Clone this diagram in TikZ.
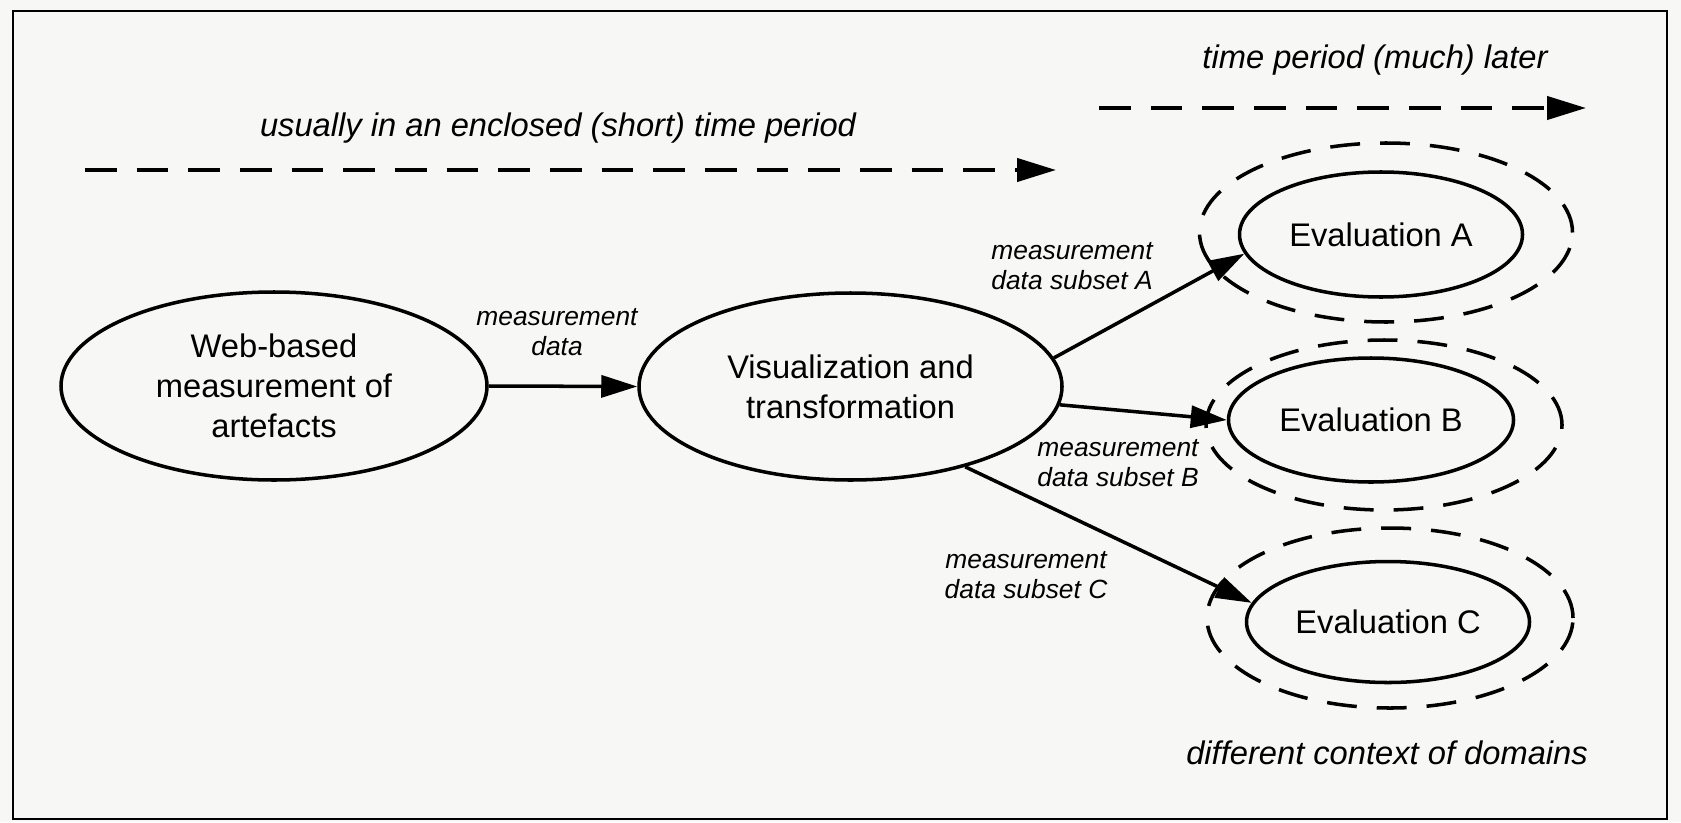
\documentclass[tikz,border=0pt]{standalone}
\usepackage{fontspec}
\setmainfont{Liberation Sans}
\usetikzlibrary{shapes.geometric, arrows.meta}
\definecolor{paper}{RGB}{247,247,245}

\begin{document}
\begin{tikzpicture}[
mainnode/.style={ellipse, draw=black, line width=1pt, inner sep=0pt, align=center, font=\fontsize{9.3}{11.4}\selectfont},
evalnode/.style={ellipse, draw=black, line width=1pt, inner sep=0pt, font=\fontsize{9.3}{11.4}\selectfont},
ringnode/.style={ellipse, draw=black, line width=1pt, dash pattern=on 8.5pt off 5.7pt, inner sep=0pt},
flowlabel/.style={align=center, font=\fontsize{7.5}{8.6}\selectfont\itshape},
timelabel/.style={font=\fontsize{9.3}{11.4}\selectfont\itshape},
timearrow/.style={line width=1.2pt, dash pattern=on 9pt off 5.7pt, -{Triangle[length=3.9mm, width=2.3mm]}},
dataarrow/.style={line width=1pt, -{Triangle[length=3.6mm, width=2.2mm]}}
]

\fill[paper] (0,0) rectangle (16.81,8.22);
\useasboundingbox (0,0) rectangle (16.81,8.22);
\draw[line width=0.8pt] (0.13,0.03) rectangle (16.67,8.11);

\node[mainnode, minimum width=4.26cm, minimum height=1.88cm] at (2.74, 4.36) (web) {Web-based\\measurement of\\artefacts};
\node[mainnode, minimum width=4.23cm, minimum height=1.87cm] at (8.505, 4.355) (vis) {Visualization and\\transformation};

\node[ringnode, minimum width=3.73cm, minimum height=1.79cm] at (13.86, 5.895) (ringA) {};
\node[ringnode, minimum width=3.56cm, minimum height=1.70cm] at (13.84, 3.97) (ringB) {};
\node[ringnode, minimum width=3.66cm, minimum height=1.80cm] at (13.90, 2.04) (ringC) {};

\node[evalnode, minimum width=2.83cm, minimum height=1.25cm] at (13.81, 5.875) (evalA) {Evaluation A};
\node[evalnode, minimum width=2.85cm, minimum height=1.24cm] at (13.71, 4.02) (evalB) {Evaluation B};
\node[evalnode, minimum width=2.83cm, minimum height=1.21cm] at (13.88, 2.00) (evalC) {Evaluation C};

\node[flowlabel] at (5.57, 4.90) (mdata) {measurement\\data};
\node[flowlabel] at (10.72, 5.56) (mdataA) {measurement\\data subset A};
\node[flowlabel] at (11.18, 3.59) (mdataB) {measurement\\data subset B};
\node[flowlabel] at (10.26, 2.47) (mdataC) {measurement\\data subset C};

\node[timelabel] at (5.58, 6.94) (shortlbl) {usually in an enclosed (short) time period};
\node[timelabel] at (13.75, 7.62) (laterlbl) {time period (much) later};
\node[timelabel] at (13.87, 0.69) (domainlbl) {different context of domains};

\coordinate (short0) at (0.85, 6.52);
\coordinate (short1) at (10.56, 6.52);
\coordinate (later0) at (10.99, 7.14);
\coordinate (later1) at (15.86, 7.14);

\draw[timearrow] (short0) -- (short1);
\draw[timearrow] (later0) -- (later1);

\draw[dataarrow] (web.east) -- (vis.west);
\draw[dataarrow] (vis.8) -- (evalA.188);
\draw[dataarrow] (vis.-5) -- (evalB.west);
\draw[dataarrow] (vis.-35) -- (evalC.172);
\end{tikzpicture}
\end{document}
